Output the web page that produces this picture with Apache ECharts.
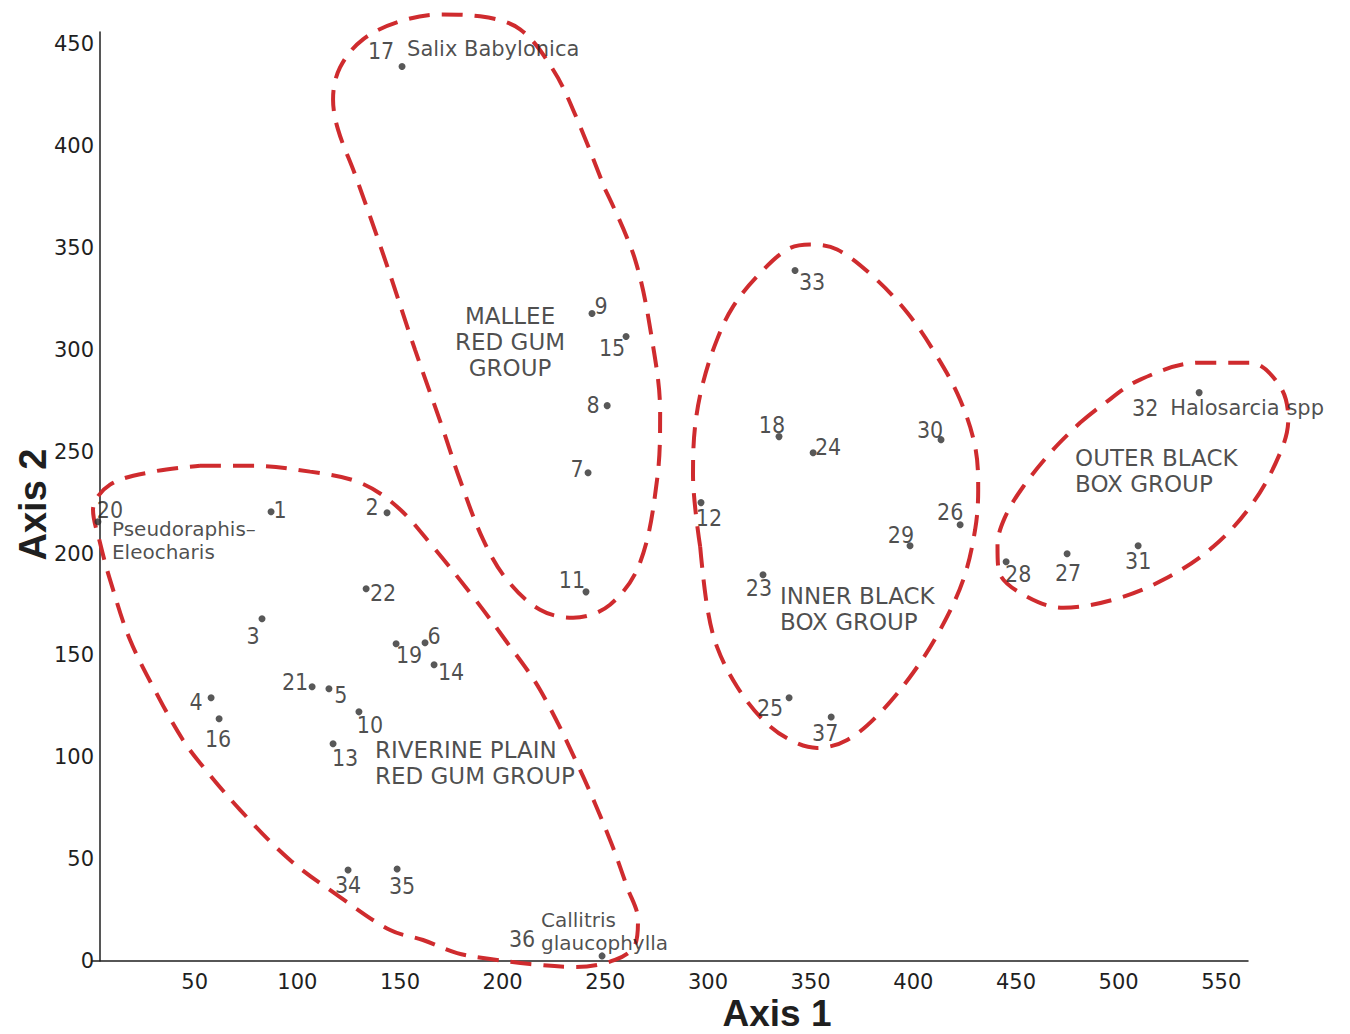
<!DOCTYPE html>
<html><head><meta charset="utf-8">
<script src="https://cdn.jsdelivr.net/npm/echarts@6/dist/echarts.min.js"></script>
<style>html,body{margin:0;padding:0;background:#fff;overflow:hidden}#c{position:absolute;left:0;top:0;width:1350px;height:1034px}</style>
</head><body><div id="c"></div>
<script>
// ---- data ----
const siteIds = [1,2,3,4,5,6,7,8,9,10,11,12,13,14,15,16,17,18,19,20,21,22,23,24,25,26,27,28,29,30,31,32,33,34,35,36,37];
const axis1Scores = [87.2,143.7,82.8,58.0,115.4,162.2,241.6,250.9,243.5,130.0,240.6,296.6,117.4,166.6,260.1,61.9,151.0,334.6,148.1,2.9,107.2,133.5,326.8,351.2,339.5,422.8,474.9,445.2,398.4,413.5,509.5,539.2,342.4,124.7,148.6,248.4,360.0];
const axis2Scores = [220.5,220.0,168.0,129.2,133.6,156.2,239.7,272.6,317.8,122.3,181.2,225.0,106.6,145.4,306.5,118.9,439.1,257.4,155.7,215.6,134.6,182.7,189.6,249.5,129.2,214.1,199.9,196.0,203.8,255.9,203.8,279.0,338.9,44.7,45.2,2.5,119.8];
const speciesNames = {17:'Salix Babylonica', 20:'Pseudoraphis–\nEleocharis', 36:'Callitris\nglaucophylla', 32:'Halosarcia spp'};
const xTicks = [50,100,150,200,250,300,350,400,450,500,550];
const yTicks = [0,50,100,150,200,250,300,350,400,450];

// group outlines (axis units), each starts/ends on a gently curved stretch
const malleeOutline = [[249.9,378.7],[264.5,344.3],[273.3,301.6],[276.7,269.2],[275.2,236.2],[266.9,195.5],[252.3,174.9],[234.3,168.5],[218.2,172.4],[202.1,187.1],[190.5,206.8],[179.2,236.2],[171.0,260.8],[157.3,300.1],[142.7,344.3],[128.1,386.1],[119.8,408.2],[117.4,422.9],[120.8,438.6],[132.0,452.4],[150.0,461.2],[169.5,464.6],[189.0,463.7],[208.5,457.3],[224.5,437.6],[235.3,415.5],[249.9,378.7]];
const riverineOutline = [[52.6,243.1],[77.0,243.1],[106.2,240.2],[130.5,234.8],[148.6,223.0],[166.1,203.3],[185.6,178.8],[201.2,157.7],[218.2,133.1],[237.7,93.8],[252.3,59.4],[260.6,36.3],[265.9,20.1],[264.5,7.9],[254.7,0.5],[235.3,-2.9],[213.3,-1.5],[193.9,1.0],[177.8,3.9],[161.2,10.3],[145.2,15.2],[120.8,31.4],[96.4,49.6],[72.1,74.2],[52.6,97.2],[44.3,108.5],[33.1,128.2],[18.5,157.7],[8.8,187.1],[3.9,205.3],[0.5,221.5],[8.8,233.8],[29.7,240.2],[52.6,243.1]];
const innerOutline = [[296.2,203.3],[292.7,238.7],[293.7,262.3],[297.6,283.9],[304.4,305.0],[312.2,321.2],[323.9,336.0],[338.5,349.2],[349.7,351.7],[362.9,349.2],[380.4,336.0],[397.0,318.3],[411.6,296.7],[422.8,275.5],[430.1,252.5],[431.6,231.3],[430.1,211.7],[424.3,187.1],[413.1,162.6],[399.9,141.5],[383.8,121.8],[367.8,108.5],[353.1,104.6],[340.0,108.5],[326.8,118.4],[314.2,134.6],[304.4,154.2],[299.6,173.9],[296.2,203.3]];
const outerOutline = [[481.2,264.2],[491.0,272.1],[510.5,285.4],[539.7,293.7],[564.1,293.7],[578.7,281.9],[582.6,265.7],[578.7,249.5],[565.5,225.0],[546.0,203.3],[521.7,187.1],[497.3,177.3],[473.0,173.4],[452.0,180.7],[441.5,192.0],[441.0,204.0],[444.5,217.5],[453.5,232.8],[468.1,251.0],[481.2,264.2]];

const groupNames = ['MALLEE\nRED GUM\nGROUP', 'RIVERINE PLAIN\nRED GUM GROUP', 'INNER BLACK\nBOX GROUP', 'OUTER BLACK\nBOX GROUP'];
const groupAnchorX = [203.6, 137.8, 335.1, 478.8];
const groupAnchorY = [304.0, 97.2, 172.9, 240.7];

// ---- layout / style ----
const numOffsets = {1:[9,-2],2:[-15,-6],3:[-9,17],4:[-15,4],5:[12,6],6:[9,-7],7:[-11,-4],8:[-14,-1],9:[9,-8],10:[11,13],11:[-14,-12],12:[8,15],13:[12,14],14:[17,7],15:[-14,11],16:[-1,20],17:[-21,-15],18:[-7,-12],19:[13,11],20:[12,-12],21:[-17,-5],22:[17,4],23:[-4,13],24:[15,-6],25:[-19,10],26:[-10,-13],27:[1,19],28:[12,12],29:[-9,-11],30:[-11,-10],31:[0,15],32:[-54,15],33:[17,11],34:[0,15],35:[5,17],36:[-80,-17],37:[-6,16]};
const nameOffsets = {17:[5,-17],20:[14,19],36:[-61,-24],32:[-29,15]};
const nameMultiLine = {20:true, 36:true};
const groupAlign = ['center','left','left','left'];

const W = 1350, H = 1034;
const G = { left: 92, right: 102, top: 32, bottom: 73 };
const X_MAX = 563, Y_MAX = 456;
// an invisible second grid with the same pixel scale but wider range, so outlines can run past the axes
const sx = (W - G.left - G.right) / X_MAX, sy = (H - G.top - G.bottom) / Y_MAX;
const X2 = [0, 600], Y2 = [-10, 472];
const y0px = H - G.bottom;
const G2 = {
  left: G.left,
  right: W - G.left - (X2[1] - X2[0]) * sx,
  bottom: H - (y0px - Y2[0] * sy),
  top: y0px - Y2[1] * sy
};

const RED = '#cf2b2e';
const INK = '#1f1f1f';
const numFont = "'Liberation Sans Narrow','DejaVu Sans Condensed','Liberation Sans',sans-serif";
const sansFont = "'DejaVu Sans','Liberation Sans',sans-serif";

const pointData = siteIds.map((id, i) => ({
  value: [axis1Scores[i], axis2Scores[i]],
  label: { offset: numOffsets[id] }
}));
const nameData = siteIds.filter(id => speciesNames[id]).map(id => {
  const i = siteIds.indexOf(id);
  const multi = nameMultiLine[id];
  return { value: [axis1Scores[i], axis2Scores[i]], name: speciesNames[id],
    label: { offset: nameOffsets[id], fontSize: multi ? 20 : 21, lineHeight: multi ? 23 : 24 } };
});
const groupData = groupNames.map((n, i) => ({ value: [groupAnchorX[i], groupAnchorY[i]], name: n, label: { align: groupAlign[i] } }));

function outline(d) {
  return {
    type: 'line', data: d, smooth: 0.35, symbol: 'none', clip: false, silent: true,
    xAxisIndex: 1, yAxisIndex: 1,
    lineStyle: { color: RED, width: 4, type: [21, 12], cap: 'butt' }, z: 1
  };
}

const chart = echarts.init(document.getElementById('c'), null, { renderer: 'svg', width: W, height: H });
chart.setOption({
  animation: false,
  backgroundColor: '#fff',
  grid: [
    { left: G.left, right: G.right, top: G.top, bottom: G.bottom, containLabel: false, outerBoundsMode: 'none' },
    { left: G2.left, right: G2.right, top: G2.top, bottom: G2.bottom, containLabel: false, outerBoundsMode: 'none' }
  ],
  xAxis: [{
    type: 'value', min: 0, max: X_MAX, interval: 50,
    name: 'Axis 1', nameLocation: 'middle', nameGap: 34, nameMoveOverlap: false,
    nameTextStyle: { fontSize: 37, lineHeight: 36, fontWeight: 'bold', color: INK, fontFamily: "'Liberation Sans',sans-serif", padding: [0, 0, 0, 214] },
    axisLine: { show: true, lineStyle: { color: INK, width: 1.5 } },
    axisTick: { show: false }, splitLine: { show: false },
    axisLabel: { margin: 11, fontSize: 21, lineHeight: 20, color: INK, fontFamily: sansFont,
      formatter: v => (xTicks.indexOf(v) >= 0 ? String(v) : '') }
  }, {
    type: 'value', gridIndex: 1, min: X2[0], max: X2[1], show: false
  }],
  yAxis: [{
    type: 'value', min: 0, max: Y_MAX, interval: 50, offset: -8,
    name: 'Axis 2', nameLocation: 'middle', nameGap: 48, nameMoveOverlap: false,
    nameTextStyle: { fontSize: 38, fontWeight: 'bold', color: INK, fontFamily: "'Liberation Sans',sans-serif", padding: [0, 16, 0, 0] },
    axisLine: { show: true, lineStyle: { color: INK, width: 1.5 } },
    axisTick: { show: false }, splitLine: { show: false },
    axisLabel: { margin: 6, fontSize: 21, color: INK, fontFamily: sansFont,
      formatter: v => (yTicks.indexOf(v) >= 0 ? String(v) : '') }
  }, {
    type: 'value', gridIndex: 1, min: Y2[0], max: Y2[1], show: false
  }],
  series: [
    outline(malleeOutline), outline(riverineOutline), outline(innerOutline), outline(outerOutline),
    {
      type: 'scatter', data: pointData, symbol: 'circle', symbolSize: 7, clip: false, z: 3,
      itemStyle: { color: '#2e2e2e' },
      label: { show: true, position: 'inside', formatter: p => String(siteIds[p.dataIndex]),
        fontSize: 23, color: INK, fontFamily: numFont, align: 'center', verticalAlign: 'middle' }
    },
    {
      type: 'scatter', data: nameData, symbolSize: 0, clip: false, z: 3, silent: true,
      label: { show: true, position: 'inside', formatter: p => p.name, align: 'left', verticalAlign: 'middle',
        color: INK, fontFamily: sansFont }
    },
    {
      type: 'scatter', data: groupData, symbolSize: 0, clip: false, z: 3, silent: true,
      label: { show: true, position: 'inside', formatter: p => p.name, verticalAlign: 'middle',
        fontSize: 23, lineHeight: 26, color: INK, fontFamily: sansFont }
    }
  ]
});
</script></body></html>
